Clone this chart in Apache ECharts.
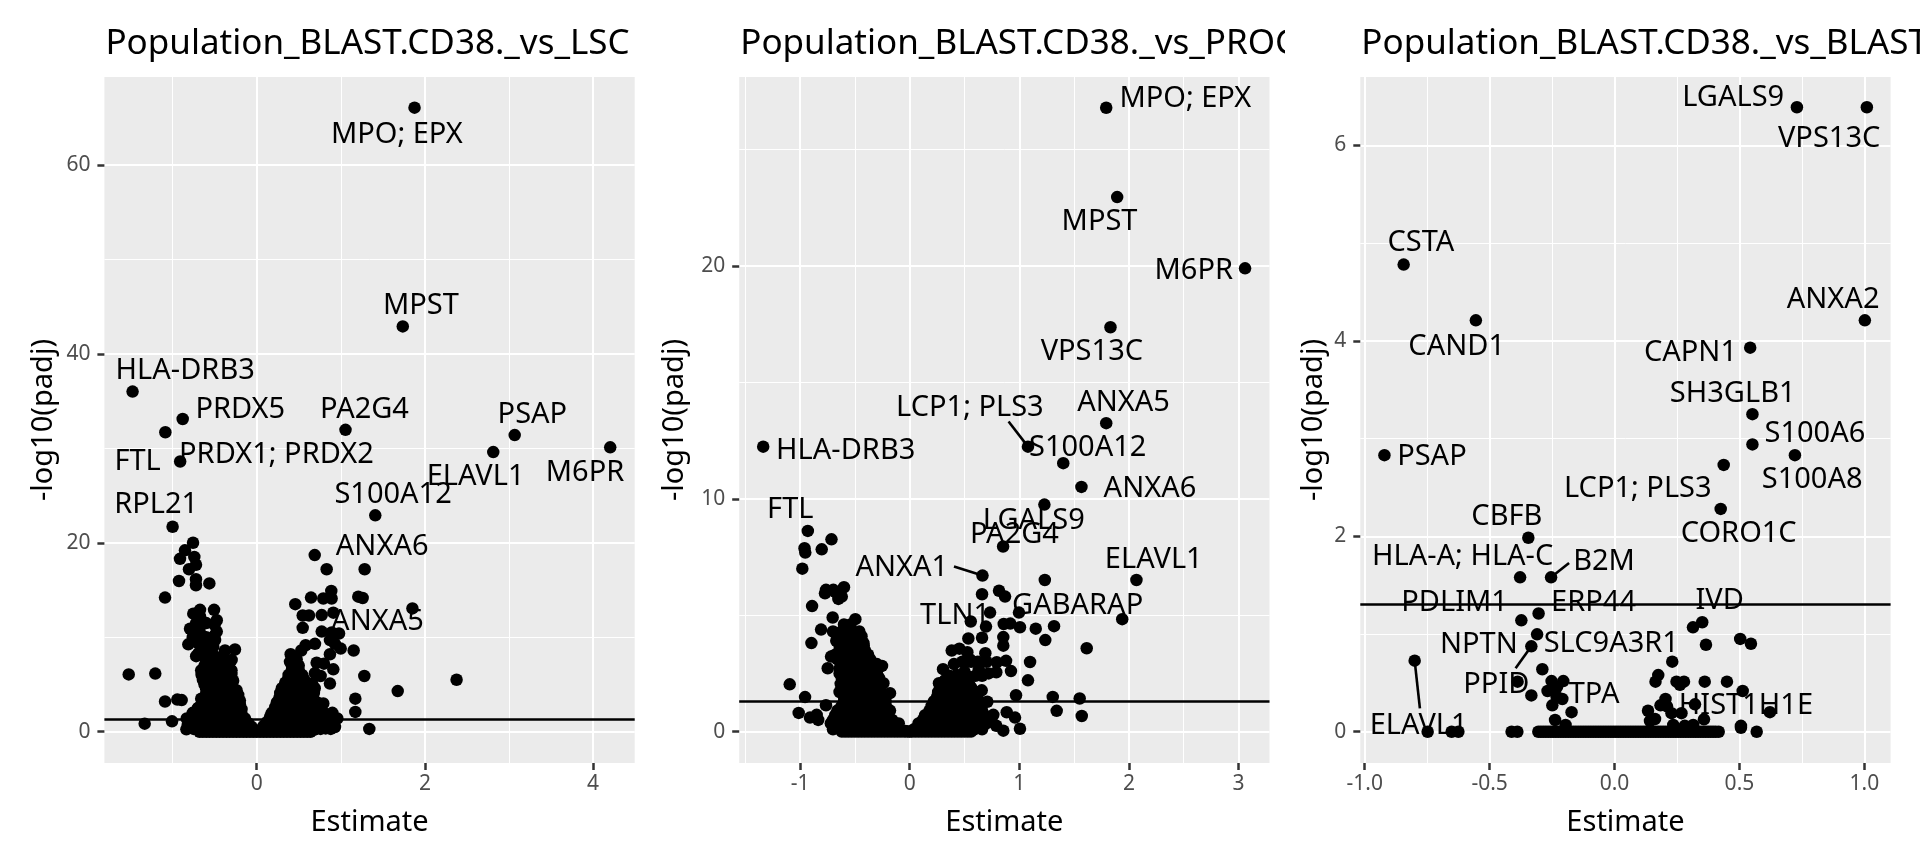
<!DOCTYPE html>
<html><head><meta charset="utf-8">
<style>html,body{margin:0;padding:0;background:#fff}#c{width:1920px;height:864px}</style>
<script src="https://cdn.jsdelivr.net/npm/echarts@6/dist/echarts.min.js"></script>
</head><body><div id="c"></div>
<script>
const titles = ["Population_BLAST.CD38._vs_LSC","Population_BLAST.CD38._vs_PROG","Population_BLAST.CD38._vs_BLAST"];
const threshold = 1.301;

// ---- panel 1: LSC
const pointsLsc = [
[1.877,66.05],[1.737,42.9],[-1.476,36],[-1.086,31.7],[-.88,33.1],[-.91,28.6],[1.056,31.95],[3.068,31.4],[2.813,29.6],[4.204,30.1],[1.41,22.9],[1.852,13.05],[2.377,5.5],[1.677,4.3],
[-1,21.7],[-.757,20],[-.853,19.2],[-.912,18.3],[-.742,18.5],[-.722,17.67],[-.805,17.2],[-.924,15.95],[-.722,16.15],[-.722,15.5],[-.563,15.7],[-1.09,14.2],
[-.674,12.9],[-.754,12.5],[-.507,12.9],[-.674,12.2],[-.475,11.8],[-.793,10.9],[-.68,10.9],[-.654,10.2],[-.475,10.6],[-.495,9.7],[-.813,9.25],[-.694,9.35],[-.694,8.3],[-.516,9],[-.258,8.7],[-.377,8.6],[-.298,7.6],[-.56,8.3],[-.6,7.6],[-.654,6],
[-1.522,6.07],[-1.206,6.15],[-1.09,3.2],[-.944,3.4],[-.892,3.35],[-1.332,.85],[-1.007,1.1],[-.832,1.4],[-.836,.25],[-.694,2.5],
[-.62,7],[-.52,7.1],[-.42,7],[-.33,6.9],[-.65,6],[-.56,6.1],[-.47,6],[-.38,5.9],[-.3,6.1],[-.62,5],[-.54,5.1],[-.46,5],[-.38,5],[-.3,4.9],
[-.6,4],[-.5,4.1],[-.42,4],[-.34,4],[-.26,4.1],[-.22,3.9],[-.62,3],[-.52,3.1],[-.43,3],[-.35,3],[-.27,3],[-.2,2.9],
[-.76,2],[-.68,2.1],[-.6,2],[-.5,2],[-.42,2.1],[-.33,2],[-.25,2],[-.18,1.9],[-.78,1],[-.7,1],[-.6,1.1],[-.5,1],[-.42,1],[-.33,1.1],[-.25,1],[-.17,1],[-.1,.9],
[-.75,.3],[-.65,.3],[-.55,.2],[-.45,.3],[-.35,.2],[-.25,.3],[-.15,.2],[-.08,.2],[-.03,.1],[0,0],
[-.6,7.5],[-.5,7.5],[-.4,7.5],[-.32,7.4],[-.66,6.5],[-.58,6.5],[-.48,6.6],[-.38,6.5],[-.3,6.5],[-.64,5.5],[-.55,5.5],[-.45,5.5],[-.36,5.5],[-.28,5.4],[-.6,4.5],[-.5,4.5],[-.42,4.5],[-.32,4.5],[-.24,4.4],
[-.66,3.5],[-.56,3.5],[-.46,3.5],[-.37,3.5],[-.28,3.5],[-.2,3.3],[-.7,2.5],[-.6,2.5],[-.52,2.5],[-.43,2.5],[-.35,2.5],[-.26,2.5],[-.18,2.4],[-.78,1.5],[-.68,1.5],[-.58,1.5],[-.48,1.5],[-.4,1.5],[-.3,1.5],[-.22,1.5],[-.14,1.4],
[-.82,.7],[-.72,.7],[-.62,.7],[-.52,.7],[-.42,.7],[-.32,.7],[-.22,.7],[-.12,.7],[-.06,.5],[-.72,11.5],[-.6,11.5],[-.5,11.3],[-.76,10],[-.6,10],[-.5,10.2],[-.62,9],[-.55,9],[-.72,8],[-.5,8],[-.4,8],
[-.68,0],[-.64,0],[-.6,0],[-.56,0],[-.52,0],[-.48,0],[-.44,0],[-.4,0],[-.36,0],[-.32,0],[-.28,0],[-.24,0],[-.2,0],[-.16,0],[-.12,0],[-.08,0],[-.04,0],
[.69,18.7],[.832,17.2],[1.284,17.2],[.887,14.9],[.646,14.2],[.792,14.1],[.891,14.1],[1.208,14.3],[1.26,14.15],[.459,13.5],[.547,12.3],[.622,12.3],[.773,12.35],[.911,12.6],[.547,11],[.773,10.6],[.891,10.5],[.979,10.4],[.871,9.7],[.93,9.3],[.999,8.8],[1.153,8.6],[.693,9.3],[.582,9.15],[.53,8.6],[.404,8.2],[.396,7.4],[.475,7.65],[.871,8.2],[.713,7.3],[.8,7.2],[.911,6.6],[.693,6.2],[.76,5.9],[.871,5.1],[1.28,5.9],[1.173,3.5],[1.173,2.1],[1.339,.3],[.69,4.6],[.792,3],[.9,2],[.959,1.4],[.931,.5],
[.42,6.6],[.5,6.5],[.38,5.7],[.46,5.8],[.56,5.6],[.3,4.6],[.38,4.7],[.46,4.6],[.54,4.7],[.62,4.5],[.27,3.6],[.35,3.7],[.43,3.5],[.51,3.6],[.59,3.5],[.67,3.6],[.22,2.6],[.3,2.5],[.38,2.6],[.46,2.5],[.54,2.6],[.62,2.5],[.72,2.5],
[.16,1.6],[.24,1.5],[.32,1.6],[.4,1.5],[.48,1.6],[.56,1.5],[.64,1.6],[.72,1.5],[.82,1.5],[.08,.6],[.16,.5],[.24,.6],[.32,.5],[.4,.6],[.48,.5],[.56,.6],[.64,.5],[.72,.6],[.8,.5],[.88,.6],[.05,.2],[.12,.1],[.2,.2],[.3,.1],[.42,.2],[.55,.1],[.68,.2],
[.42,7],[.5,7],[.38,6],[.46,6.2],[.54,6],[.34,5.2],[.42,5.2],[.5,5.2],[.58,5.2],[.66,5.1],[.28,4.1],[.36,4.1],[.44,4.1],[.52,4.1],[.6,4.1],[.68,4.1],[.24,3.1],[.32,3.1],[.4,3.1],[.48,3.1],[.56,3.1],[.64,3.1],[.72,3.1],
[.18,2],[.26,2],[.34,2],[.42,2],[.5,2],[.58,2],[.66,2],[.74,2],[.8,2],[.12,1],[.2,1],[.28,1],[.36,1],[.44,1],[.52,1],[.6,1],[.68,1],[.76,1],[.84,1],
[.04,0],[.08,0],[.12,0],[.16,0],[.2,0],[.24,0],[.28,0],[.32,0],[.36,0],[.4,0],[.44,0],[.48,0],[.52,0],[.56,0],[.6,0],[.64,0],[.76,.3],[.82,.35],[.88,.3]
];
const labelsLsc = [
[1.667,63.4,"MPO; EPX"],[1.952,45.25,"MPST"],[-.85,38.4,"HLA-DRB3"],[-.195,34.2,"PRDX5"],[1.282,34.2,"PA2G4"],[3.278,33.7,"PSAP"],[-1.416,28.75,"FTL"],[.235,29.45,"PRDX1; PRDX2"],[2.603,27.1,"ELAVL1"],[3.904,27.6,"M6PR"],[1.622,25.25,"S100A12"],[-1.196,24.2,"RPL21"],[1.492,19.7,"ANXA6"],[1.436,11.84,"ANXA5"]
];
const segmentsLsc = [];
const xTicksLsc = [0,2,4], xMinorLsc = [-1,1,3], yTicksLsc = [0,20,40,60], yMinorLsc = [10,30,50];

// ---- panel 2: PROG
const pointsProg = [
[1.793,26.8],[1.893,22.96],[3.06,19.9],[1.832,17.37],[1.793,13.25],[1.079,12.24],[1.401,11.53],[1.567,10.51],[1.229,9.75],[.852,7.95],[.664,6.7],[1.233,6.51],[2.069,6.51],[1.939,4.83],[-1.337,12.24],
[-.93,8.62],[-.96,7.88],[-.953,7.69],[-.98,7],[-.803,7.83],[-.714,8.26],
[-.764,6.09],[-.773,5.94],[-.697,6.09],[-.651,5.7],[-.6,6.2],[-.62,5.8],[-.68,6],[-.891,5.39],[-.703,4.9],[-.496,4.83],[-.809,4.38],[-.897,3.8],[-1.095,2.03],[-.955,1.48],[-1.013,.8],[-.91,.6],[-.849,.72],[-.835,.5],[-.764,1.13],[-.253,2.82],[-.24,2.08],[-.18,1.65],[-.423,3.81],[-.748,2.72],[-.718,3.22],[-.63,2.05],
[-.6,4.6],[-.54,4.6],[-.7,4.3],[-.62,4.3],[-.54,4.3],[-.46,4.3],[-.67,3.9],[-.6,3.9],[-.52,3.9],[-.44,3.9],[-.64,3.5],[-.56,3.5],[-.48,3.5],[-.41,3.5],[-.66,3.1],[-.58,3.1],[-.5,3.1],[-.42,3.1],[-.36,3.1],[-.64,2.7],[-.56,2.7],[-.48,2.7],[-.41,2.7],[-.34,2.7],[-.29,2.7],[-.62,2.3],[-.55,2.3],[-.48,2.3],[-.41,2.3],[-.34,2.3],[-.28,2.3],[-.62,1.9],[-.55,1.9],[-.47,1.9],[-.4,1.9],[-.33,1.9],[-.27,1.9],[-.6,1.5],[-.53,1.5],[-.46,1.5],[-.39,1.5],[-.32,1.5],[-.25,1.5],[-.62,1.1],[-.54,1.1],[-.46,1.1],[-.38,1.1],[-.3,1.1],[-.22,1.1],[-.68,.7],[-.6,.7],[-.52,.7],[-.44,.7],[-.36,.7],[-.28,.7],[-.2,.7],[-.72,.35],[-.64,.35],[-.56,.35],[-.48,.35],[-.4,.35],[-.32,.35],[-.24,.35],[-.16,.35],[-.1,.35],[-.7,.1],[-.62,.1],[-.54,.1],[-.46,.1],[-.38,.1],[-.3,.1],[-.22,.1],[-.14,.1],[-.08,.05],[-.04,.02],[0,0],
[-.66,4.1],[-.58,4.1],[-.5,4.1],[-.44,4.1],[-.64,3.7],[-.58,3.7],[-.5,3.7],[-.42,3.7],[-.68,3.3],[-.6,3.3],[-.52,3.3],[-.44,3.3],[-.38,3.3],[-.62,2.9],[-.54,2.9],[-.46,2.9],[-.38,2.9],[-.3,2.9],[-.64,2.5],[-.58,2.5],[-.5,2.5],[-.42,2.5],[-.36,2.5],[-.3,2.5],[-.6,2.1],[-.52,2.1],[-.44,2.1],[-.36,2.1],[-.3,2.1],[-.64,1.7],[-.56,1.7],[-.48,1.7],[-.4,1.7],[-.32,1.7],[-.26,1.7],[-.6,1.3],[-.52,1.3],[-.44,1.3],[-.36,1.3],[-.28,1.3],[-.22,1.3],[-.66,.9],[-.58,.9],[-.5,.9],[-.42,.9],[-.34,.9],[-.26,.9],[-.18,.9],[-.7,.5],[-.62,.5],[-.54,.5],[-.46,.5],[-.38,.5],[-.3,.5],[-.22,.5],[-.16,.5],
[-.62,0],[-.59,0],[-.56,0],[-.53,0],[-.5,0],[-.47,0],[-.44,0],[-.41,0],[-.38,0],[-.35,0],[-.32,0],[-.29,0],[-.26,0],[-.23,0],[-.2,0],[-.17,0],[-.14,0],[-.11,0],[-.08,0],[-.05,0],[-.02,0],
[.557,4.73],[.733,5.11],[.997,5.11],[.66,5.9],[.815,6.05],[.87,5.8],[.696,4.51],[.858,4.62],[.918,4.64],[1.006,4.48],[1.15,4.42],[1.317,4.53],[1.237,3.93],[1.615,3.58],[.535,4],[.66,4.03],[.854,4.06],[.854,3.69],[.69,3.37],[1.098,2.99],[1.079,2.2],[.97,1.56],[1.305,1.49],[1.551,1.42],[1.341,.89],[1.57,.67],[.924,2.6],[.879,3.04],[.794,2.98],[.383,3.48],[.453,3.56],[.526,3.41],[.304,2.68],[.404,2.9],[.429,2.43],[.5,2.57],[.267,2.08],[.63,2.65],[.72,2.5],[.79,2.55],[.55,3.1],[.657,1.77],[.708,1.28],[.763,.72],[.885,.83],[.961,.6],[1.006,.12],[.854,.04],[.79,.25],
[.32,2.2],[.4,2.2],[.47,2.2],[.52,2.2],[.28,1.9],[.36,1.9],[.43,1.9],[.5,1.9],[.56,1.9],[.25,1.5],[.32,1.5],[.39,1.5],[.46,1.5],[.53,1.5],[.58,1.5],[.2,1.1],[.27,1.1],[.34,1.1],[.41,1.1],[.48,1.1],[.55,1.1],[.6,1.1],[.14,.7],[.21,.7],[.28,.7],[.35,.7],[.42,.7],[.49,.7],[.56,.7],[.63,.7],[.68,.7],[.08,.35],[.15,.35],[.22,.35],[.29,.35],[.36,.35],[.43,.35],[.5,.35],[.57,.35],[.64,.35],[.7,.35],[.04,.1],[.1,.1],[.17,.1],[.24,.1],[.31,.1],[.38,.1],[.45,.1],[.52,.1],[.59,.1],[.66,.1],
[.48,3],[.56,3],[.62,3],[.7,3],[.36,2.4],[.44,2.4],[.52,2.4],[.6,2.4],[.66,2.4],[.3,2.05],[.38,2.05],[.46,2.05],[.54,2.05],[.26,1.7],[.34,1.7],[.41,1.7],[.48,1.7],[.55,1.7],[.6,1.7],[.22,1.3],[.3,1.3],[.37,1.3],[.44,1.3],[.51,1.3],[.58,1.3],[.64,1.3],[.18,.9],[.25,.9],[.32,.9],[.39,.9],[.46,.9],[.53,.9],[.6,.9],[.66,.9],[.12,.5],[.19,.5],[.26,.5],[.33,.5],[.4,.5],[.47,.5],[.54,.5],[.61,.5],[.68,.5],[.74,.5],
[.02,0],[.05,0],[.08,0],[.11,0],[.14,0],[.17,0],[.2,0],[.23,0],[.26,0],[.29,0],[.32,0],[.35,0],[.38,0],[.41,0],[.44,0],[.47,0],[.5,0],[.53,0],[.56,0]
];
const labelsProg = [
[2.515,27.27,"MPO; EPX"],[1.732,21.96,"MPST"],[2.592,19.88,"M6PR"],[1.662,16.38,"VPS13C"],[1.951,14.18,"ANXA5"],[.549,13.96,"LCP1; PLS3"],[-.584,12.12,"HLA-DRB3"],[1.624,12.24,"S100A12"],[2.192,10.51,"ANXA6"],[-1.09,9.59,"FTL"],[1.132,9.14,"LGALS9"],[.956,8.52,"PA2G4"],[2.227,7.46,"ELAVL1"],[-.073,7.1,"ANXA1"],[1.532,5.49,"GABARAP"],[.414,5.04,"TLN1"]
];
const segmentsProg = [[.902,13.32,1.079,12.24],[.404,7.09,.664,6.7]];
const xTicksProg = [-1,0,1,2,3], xMinorProg = [-1.5,-.5,.5,1.5,2.5], yTicksProg = [0,10,20], yMinorProg = [5,15,25];

// ---- panel 3: BLAST
const pointsBlast = [
[.73,6.39],[1.01,6.39],[-.844,4.78],[-.555,4.21],[1.002,4.21],[.543,3.93],[.552,3.25],[.552,2.94],[-.921,2.83],[.722,2.83],[.437,2.73],[.425,2.28],[-.345,1.985],[-.378,1.58],[-.254,1.58],
[-.304,1.21],[-.373,1.14],[-.31,.997],[-.333,.874],[-.8,.727],[-.289,.639],[-.388,.512],[-.252,.518],[-.205,.518],[-.268,.417],[-.333,.372],[-.23,.46],[-.232,.358],[-.209,.335],[-.249,.27],[-.172,.2],[-.238,.12],[-.196,.07],
[-.748,0],[-.652,0],[-.625,0],[-.412,0],[-.389,0],
[-.305,0],[-.295,0],[-.285,0],[-.275,0],[-.265,0],[-.255,0],[-.245,0],[-.235,0],[-.225,0],[-.215,0],[-.205,0],[-.195,0],[-.185,0],[-.175,0],[-.165,0],[-.155,0],[-.145,0],[-.135,0],[-.125,0],[-.115,0],[-.105,0],[-.095,0],[-.085,0],[-.075,0],[-.065,0],[-.055,0],[-.045,0],[-.035,0],[-.025,0],[-.015,0],[-.005,0],[.005,0],[.015,0],[.025,0],[.035,0],[.045,0],[.055,0],[.065,0],[.075,0],[.085,0],[.095,0],[.105,0],[.115,0],[.125,0],[.135,0],[.145,0],[.155,0],[.165,0],[.175,0],[.185,0],[.195,0],[.205,0],[.215,0],[.225,0],[.235,0],[.245,0],[.255,0],[.265,0],[.275,0],[.285,0],[.295,0],[.305,0],[.315,0],[.325,0],[.335,0],[.345,0],[.355,0],[.365,0],[.375,0],[.385,0],[.395,0],[.405,0],[.417,0],
[.314,1.068],[.351,1.12],[.366,.89],[.503,.95],[.546,.9],[.231,.717],[.175,.58],[.164,.512],[.248,.512],[.278,.512],[.262,.48],[.361,.512],[.45,.512],[.513,.417],[.204,.335],[.184,.27],[.21,.26],[.322,.28],[.134,.215],[.228,.19],[.268,.19],[.622,.2],[.162,.13],[.142,.11],[.358,.127],[.506,.06],[.506,.04],[.235,.07],[.281,.06],[.315,.07],[.569,0]
];
const labelsBlast = [
[.475,6.5,"LGALS9"],[.859,6.08,"VPS13C"],[-.775,5.02,"CSTA"],[.875,4.44,"ANXA2"],[-.632,3.95,"CAND1"],[.304,3.89,"CAPN1"],[.473,3.47,"SH3GLB1"],[.802,3.06,"S100A6"],[-.731,2.83,"PSAP"],[.791,2.59,"S100A8"],[.093,2.5,"LCP1; PLS3"],[-.431,2.22,"CBFB"],[.497,2.04,"CORO1C"],[-.608,1.81,"HLA-A; HLA-C"],[-.042,1.75,"B2M"],[-.64,1.34,"PDLIM1"],[-.084,1.34,"ERP44"],[.421,1.354,"IVD"],[-.543,.903,"NPTN"],[-.013,.919,"SLC9A3R1"],[-.473,.496,"PPID"],[-.082,.395,"TPA"],[.526,.282,"HIST1H1E"],[-.784,.074,"ELAVL1"]
];
const segmentsBlast = [[-.254,1.58,-.182,1.726],[-.333,.874,-.396,.649],[-.8,.727,-.779,.24]];
const xTicksBlast = [-1,-.5,0,.5,1], xMinorBlast = [-.75,-.25,.25,.75], yTicksBlast = [0,2,4,6], yMinorBlast = [1,3,5];

const plain=v=>String(v);
const panels = [
 {pts:pointsLsc,lab:labelsLsc,seg:segmentsLsc,xt:xTicksLsc,xm:xMinorLsc,yt:yTicksLsc,ym:yMinorLsc,xr:[-1.811,4.495],yr:[-3.31,69.3],left:104.4,xf:plain,gap:46},
 {pts:pointsProg,lab:labelsProg,seg:segmentsProg,xt:xTicksProg,xm:xMinorProg,yt:yTicksProg,ym:yMinorProg,xr:[-1.556,3.283],yr:[-1.35,28.12],left:739.2,xf:plain,gap:50},
 {pts:pointsBlast,lab:labelsBlast,seg:segmentsBlast,xt:xTicksBlast,xm:xMinorBlast,yt:yTicksBlast,ym:yMinorBlast,xr:[-1.0176,1.105],yr:[-.32,6.7],left:1360.3,xf:v=>v.toFixed(1),gap:32}
];
const FONT='"Noto Sans"', PW=530.3, PT=77, PH=686;
const option={animation:false,backgroundColor:'#fff',textStyle:{fontFamily:FONT},
 title:[],grid:[],xAxis:[],yAxis:[],series:[],graphic:[
  {type:'rect',z:7,zlevel:0,shape:{x:1285,y:0,width:72,height:76},style:{fill:'#fff'}}
 ]};
panels.forEach((p,i)=>{
 option.title.push({text:titles[i],left:p.left+1,top:27,padding:0,z:6,textStyle:{fontFamily:FONT,fontWeight:'normal',fontSize:35,color:'#000'}});
 option.grid.push({left:p.left,top:PT,width:PW,height:PH,show:true,backgroundColor:'#EBEBEB',borderWidth:0});
 const common={gridIndex:i,type:'value',scale:false,axisLine:{show:false,onZero:false},
   axisTick:{show:true,length:7,lineStyle:{color:'#333',width:2.5}},
   splitLine:{show:true,lineStyle:{color:'#fff',width:2}},minorSplitLine:{show:false},
   nameLocation:'middle',nameTextStyle:{fontFamily:FONT,fontSize:29,color:'#000'}};
 option.xAxis.push({...common,min:p.xr[0],max:p.xr[1],name:'Estimate',nameGap:45,
   axisTick:{...common.axisTick,customValues:p.xt},
   axisLabel:{customValues:p.xt,formatter:p.xf,color:'#4D4D4D',fontSize:21,fontFamily:FONT,margin:11}});
 option.yAxis.push({...common,min:p.yr[0],max:p.yr[1],name:'-log10(padj)',nameGap:p.gap,nameRotate:90,
   axisTick:{...common.axisTick,customValues:p.yt},
   axisLabel:{customValues:p.yt,formatter:plain,color:'#4D4D4D',fontSize:21,fontFamily:FONT,margin:14,padding:[3,0,0,0]}});
 option.series.push({type:'scatter',xAxisIndex:i,yAxisIndex:i,data:[],z:1,silent:true,
   markLine:{silent:true,symbol:'none',animation:false,label:{show:false},z:1,
     lineStyle:{color:'#fff',width:1,type:'solid',opacity:1},
     data:[...p.xm.map(v=>({xAxis:v})),...p.ym.map(v=>({yAxis:v}))]}});
 option.series.push({type:'scatter',xAxisIndex:i,yAxisIndex:i,data:p.pts,symbol:'circle',symbolSize:12.5,z:3,silent:true,large:false,
   itemStyle:{color:'#000',opacity:1},
   markLine:{silent:true,symbol:'none',animation:false,label:{show:false},z:4,
     lineStyle:{color:'#000',width:2.6,type:'solid',opacity:1},
     data:[{yAxis:threshold},...p.seg.map(s=>[{coord:[s[0],s[1]]},{coord:[s[2],s[3]]}])]}});
 option.series.push({type:'scatter',xAxisIndex:i,yAxisIndex:i,data:p.lab.map(l=>({value:[l[0],l[1]],name:l[2]})),symbol:'circle',symbolSize:1,z:5,silent:true,clip:false,
   itemStyle:{color:'rgba(0,0,0,0)',opacity:1},
   label:{show:true,position:'inside',offset:[0,1.5],formatter:'{b}',color:'#000',opacity:1,textBorderWidth:0,textBorderColor:'transparent',fontFamily:FONT,fontSize:29}});
});
const chart=echarts.init(document.getElementById('c'),null,{renderer:'canvas'});
chart.setOption(option);
</script></body></html>
